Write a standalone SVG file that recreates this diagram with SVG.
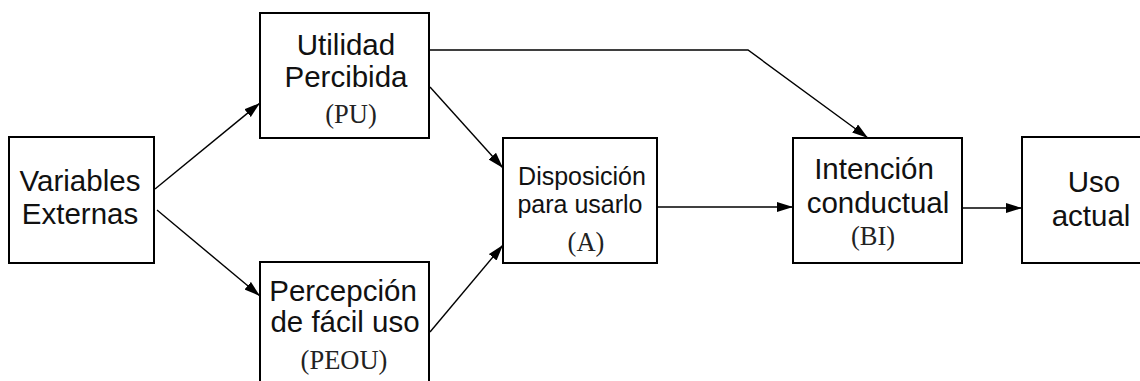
<svg xmlns="http://www.w3.org/2000/svg" width="1140" height="381" viewBox="0 0 1140 381">
  <style>
    .box { fill: #ffffff; stroke: #000000; stroke-width: 2; }
    .lbl { font-family: "Liberation Sans", Arial, sans-serif; font-size: 29.5px; fill: #111111; text-anchor: middle; }
    .lbl-sm { font-family: "Liberation Sans", Arial, sans-serif; font-size: 25px; fill: #111111; text-anchor: middle; }
    .abbr { font-family: "Liberation Serif", "Times New Roman", serif; font-size: 26.5px; fill: #222222; text-anchor: middle; }
    .conn { fill: none; stroke: #000000; stroke-width: 1.4; marker-end: url(#arrow); }
  </style>
  <defs>
    <marker id="arrow" markerUnits="userSpaceOnUse" markerWidth="17" markerHeight="11" refX="16" refY="5" orient="auto">
      <path d="M0,0 L16,5 L0,10 z" fill="#000000"/>
    </marker>
  </defs>
  <rect width="1140" height="381" fill="#ffffff"/>

  <g id="connectors">
    <line class="conn" x1="155" y1="189" x2="260" y2="103"/>
    <line class="conn" x1="157" y1="210" x2="260" y2="296"/>
    <polyline class="conn" points="429,50 748,50 868,138"/>
    <line class="conn" x1="430" y1="87" x2="503" y2="168"/>
    <line class="conn" x1="430" y1="332" x2="503" y2="245"/>
    <line class="conn" x1="657" y1="207" x2="793" y2="207"/>
    <line class="conn" x1="962" y1="208" x2="1022" y2="208"/>
  </g>

  <g id="variables-externas">
    <rect class="box" x="9" y="137" width="145" height="126"/>
    <text class="lbl" x="80" y="191">Variables</text>
    <text class="lbl" x="80" y="224">Externas</text>
  </g>

  <g id="utilidad-percibida">
    <rect class="box" x="260" y="13" width="169" height="125"/>
    <text class="lbl" x="346" y="55">Utilidad</text>
    <text class="lbl" x="346" y="87">Percibida</text>
    <text class="abbr" x="351" y="123">(PU)</text>
  </g>

  <g id="percepcion-facil-uso">
    <rect class="box" x="260" y="262" width="169" height="130"/>
    <text class="lbl" x="343" y="301">Percepción</text>
    <text class="lbl" x="345" y="332">de fácil uso</text>
    <text class="abbr" x="344" y="369">(PEOU)</text>
  </g>

  <g id="disposicion">
    <rect class="box" x="503" y="138" width="154" height="125"/>
    <text class="lbl-sm" x="582" y="185">Disposición</text>
    <text class="lbl-sm" x="580" y="213">para usarlo</text>
    <text class="abbr" x="586" y="251">(A)</text>
  </g>

  <g id="intencion-conductual">
    <rect class="box" x="793" y="138" width="169" height="125"/>
    <text class="lbl" x="874" y="179">Intención</text>
    <text class="lbl" x="878" y="213">conductual</text>
    <text class="abbr" x="873" y="245">(BI)</text>
  </g>

  <g id="uso-actual">
    <rect class="box" x="1022" y="137" width="142" height="126"/>
    <text class="lbl" x="1094" y="192">Uso</text>
    <text class="lbl" x="1091" y="226">actual</text>
  </g>
</svg>
